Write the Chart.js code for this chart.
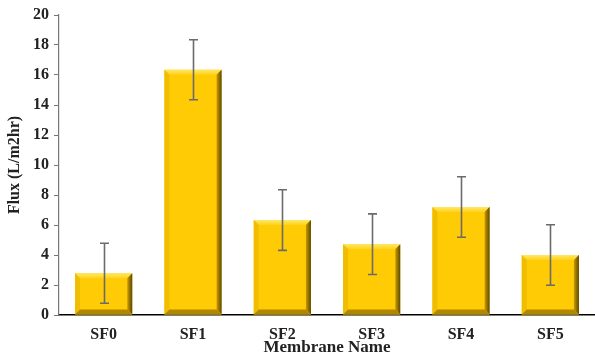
<!DOCTYPE html>
<html lang="en">
    <head>
        <meta charset="utf-8">
        <title>Flux by Membrane</title>
        <script src="https://cdn.jsdelivr.net/npm/chart.js"></script>
        <style>
            html, body { margin: 0; padding: 0; background: #fff; }
            .chart-container { width: 595px; height: 356px; position: relative; }
        </style>
    </head>
    <body>
        <div class="chart-container">
            <canvas id="graph"></canvas>
        </div>
        <script>
            var membranes = ["SF0", "SF1", "SF2", "SF3", "SF4", "SF5"];
            var flux = [2.78, 16.35, 6.33, 4.72, 7.2, 4.0];
            var fluxError = [2.0, 2.0, 2.02, 2.02, 2.02, 2.02];

            // bevelled gold bars + error bars, drawn on top of the library's bar elements
            var bevelPlugin = {
                id: 'bevel',
                afterDatasetsDraw: function(chart) {
                    var ctx = chart.ctx;
                    var meta = chart.getDatasetMeta(0);
                    var yScale = chart.scales.y;
                    meta.data.forEach(function(bar, i) {
                        var p = bar.getProps(['x', 'y', 'base', 'width'], true);
                        var l = p.x - p.width / 2, r = p.x + p.width / 2;
                        var t = p.y, b = p.base;
                        var d = 5;
                        ctx.save();
                        // top bevel
                        var gt = ctx.createLinearGradient(0, t, 0, t + d);
                        gt.addColorStop(0, '#ffe866');
                        gt.addColorStop(1, '#ffd21a');
                        ctx.fillStyle = gt;
                        ctx.beginPath();
                        ctx.moveTo(l, t); ctx.lineTo(r, t); ctx.lineTo(r - d, t + d); ctx.lineTo(l + d, t + d);
                        ctx.closePath(); ctx.fill();
                        // left bevel
                        ctx.fillStyle = '#f0bd00';
                        ctx.beginPath();
                        ctx.moveTo(l, t); ctx.lineTo(l + d, t + d); ctx.lineTo(l + d, b - d); ctx.lineTo(l, b);
                        ctx.closePath(); ctx.fill();
                        // right bevel
                        var g = ctx.createLinearGradient(r - d, 0, r, 0);
                        g.addColorStop(0, '#c89b00');
                        g.addColorStop(1, '#5e4800');
                        ctx.fillStyle = g;
                        ctx.beginPath();
                        ctx.moveTo(r, t); ctx.lineTo(r, b); ctx.lineTo(r - d, b - d); ctx.lineTo(r - d, t + d);
                        ctx.closePath(); ctx.fill();
                        // bottom bevel
                        ctx.fillStyle = '#b08800';
                        ctx.beginPath();
                        ctx.moveTo(l, b); ctx.lineTo(r, b); ctx.lineTo(r - d, b - d); ctx.lineTo(l + d, b - d);
                        ctx.closePath(); ctx.fill();

                        // error bar
                        var hi = yScale.getPixelForValue(flux[i] + fluxError[i]);
                        var lo = yScale.getPixelForValue(flux[i] - fluxError[i]);
                        var cx = Math.round(p.x) + 0.5;
                        ctx.strokeStyle = '#6b6b6b';
                        ctx.lineWidth = 1.6;
                        ctx.beginPath();
                        ctx.moveTo(cx, hi); ctx.lineTo(cx, lo);
                        ctx.moveTo(cx - 4.5, hi); ctx.lineTo(cx + 4.5, hi);
                        ctx.moveTo(cx - 4.5, lo); ctx.lineTo(cx + 4.5, lo);
                        ctx.stroke();
                        ctx.restore();
                    });
                }
            };

            var tickFont = { family: 'Liberation Serif', size: 16, weight: 'bold' };

            const ctx = document.getElementById('graph').getContext('2d');
            const graph = new Chart(ctx, {
                type: 'bar',
                data: {
                    labels: membranes,
                    datasets: [{
                        label: 'Flux',
                        data: flux,
                        backgroundColor: '#ffcb05',
                        borderWidth: 0,
                        barPercentage: 0.64,
                        categoryPercentage: 1
                    }]
                },
                plugins: [bevelPlugin],
                options: {
                    responsive: true,
                    maintainAspectRatio: false,
                    animation: false,
                    layout: {
                        padding: { top: 15, right: 0, left: 0, bottom: 0 }
                    },
                    scales: {
                        x: {
                            grid: { display: false },
                            border: { display: true, color: '#000', width: 1.5 },
                            ticks: { color: '#222', font: tickFont, padding: 2 },
                            title: {
                                display: true,
                                text: 'Membrane Name',
                                color: '#222',
                                font: { family: 'Liberation Serif', size: 17, weight: 'bold' },
                                padding: { top: 0, bottom: -2 }
                            },
                            afterFit: function(scale) { scale.height = 41; }
                        },
                        y: {
                            min: 0,
                            max: 20,
                            grid: {
                                drawOnChartArea: false,
                                drawTicks: true,
                                tickLength: 5,
                                color: '#777'
                            },
                            border: { display: true, color: '#777', width: 1.2 },
                            ticks: { stepSize: 2, color: '#222', font: tickFont, padding: 5 },
                            title: {
                                display: true,
                                text: 'Flux (L/m2hr)',
                                color: '#222',
                                font: { family: 'Liberation Serif', size: 16, weight: 'bold' },
                                padding: { top: 5, bottom: 0 }
                            },
                            afterFit: function(scale) { scale.width = 59; }
                        }
                    },
                    plugins: {
                        legend: { display: false },
                        tooltip: { enabled: false }
                    }
                }
            });
        </script>
    </body>
</html>
